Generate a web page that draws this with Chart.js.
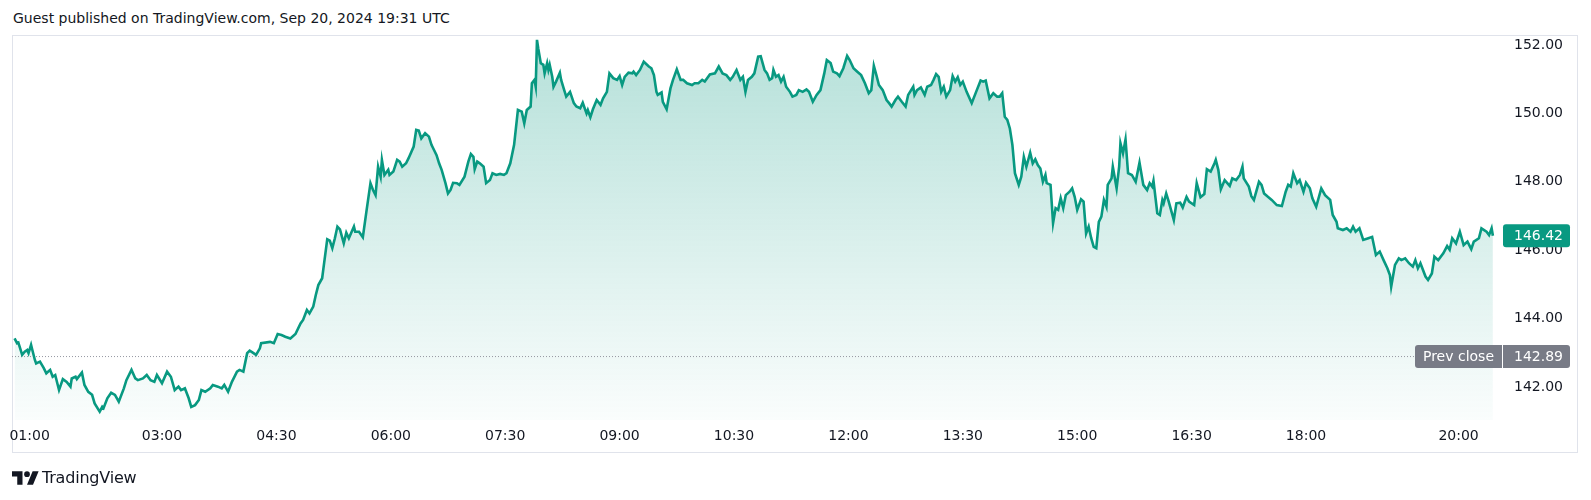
<!DOCTYPE html>
<html>
<head>
<meta charset="utf-8">
<script src="https://cdn.jsdelivr.net/npm/chart.js@4.4.1/dist/chart.umd.min.js"></script>
<style>
  html, body { margin: 0; padding: 0; background: #ffffff; }
  body { width: 1591px; height: 500px; position: relative; overflow: hidden; font-family: "DejaVu Sans", sans-serif; color: #131722; }
  #title { position: absolute; left: 13px; top: 10px; font-size: 14px; line-height: 17px; white-space: nowrap; }
  #panel { position: absolute; left: 12px; top: 35px; width: 1566px; height: 418px; border: 1px solid #e0e3eb; box-sizing: border-box; }
  #chart { position: absolute; left: 0; top: 0; }
  #brand { position: absolute; left: 12px; top: 467px; height: 20px; display: flex; align-items: center; }
  #brand span { font-size: 16px; margin-left: 3px; letter-spacing: -0.2px; }
</style>
</head>
<body>
<div id="title">Guest published on TradingView.com, Sep 20, 2024 19:31 UTC</div>
<div id="panel"></div>
<canvas id="chart" width="1591" height="500"></canvas>
<div id="brand">
  <svg width="27" height="15" viewBox="0 0 36 19"><path d="M14 19H7V8H0V1h14v18z M28 19h-8l7.5-18h8L28 19z" fill="#131722"/><circle cx="20" cy="5" r="3.8" fill="#131722"/></svg>
  <span>TradingView</span>
</div>
<script>
// time of each point (HH:MM) and the traded price
const times = [
  '01:04','01:06','01:07','01:10','01:12','01:14','01:15','01:17','01:18','01:20','01:21','01:24','01:27','01:29','01:32','01:34','01:36','01:39','01:42','01:45',
  '01:48','01:49','01:52','01:53','01:57','01:59','02:02','02:05','02:07','02:11','02:13','02:14','02:17','02:20','02:23','02:26','02:30','02:32','02:36','02:39',
  '02:41','02:45','02:48','02:51','02:54','02:56','03:00','03:04','03:07','03:10','03:13','03:15','03:18','03:21','03:23','03:26','03:29','03:31','03:34','03:38',
  '03:40','03:44','03:47','03:49','03:52','03:55','03:59','04:01','04:04','04:07','04:09','04:12','04:14','04:17','04:18','04:25','04:28','04:31','04:34','04:37',
  '04:41','04:45','04:49','04:51','04:54','04:56','04:59','05:01','05:03','05:06','05:07','05:10','05:12','05:14','05:16','05:18','05:20','05:23','05:25','05:27',
  '05:31','05:32','05:35','05:38','05:41','05:44','05:46','05:48','05:50','05:52','05:53','05:55','05:58','05:59','06:02','06:05','06:07','06:09','06:12','06:14',
  '06:18','06:20','06:22','06:24','06:27','06:30','06:32','06:34','06:36','06:38','06:40','06:43','06:45','06:47','06:49','06:52','06:54','06:58','07:01','07:03',
  '07:05','07:06','07:08','07:10','07:13','07:15','07:18','07:20','07:23','07:26','07:29','07:31','07:34','07:37','07:40','07:43','07:45','07:47','07:50','07:51',
  '07:53','07:54','07:55','07:56','07:58','08:00','08:01','08:03','08:04','08:05','08:07','08:08','08:10','08:13','08:14','08:16','08:18','08:21','08:24','08:26',
  '08:29','08:31','08:34','08:35','08:37','08:39','08:42','08:45','08:47','08:50','08:52','08:55','08:58','09:00','09:02','09:04','09:07','09:10','09:11','09:13',
  '09:16','09:19','09:23','09:25','09:27','09:29','09:30','09:33','09:34','09:37','09:40','09:42','09:45','09:48','09:50','09:53','09:57','09:59','10:02','10:05',
  '10:07','10:11','10:15','10:18','10:21','10:24','10:27','10:29','10:32','10:35','10:37','10:39','10:41','10:44','10:46','10:49','10:51','10:54','10:56','10:58',
  '11:00','11:01','11:03','11:05','11:07','11:09','11:11','11:14','11:16','11:19','11:21','11:24','11:27','11:29','11:32','11:35','11:38','11:41','11:43','11:46',
  '11:48','11:51','11:53','11:56','11:59','12:01','12:04','12:07','12:10','12:13','12:16','12:18','12:20','12:22','12:24','12:27','12:30','12:32','12:34','12:37',
  '12:39','12:42','12:45','12:47','12:51','12:52','12:54','12:57','13:00','13:02','13:05','13:07','13:09','13:11','13:13','13:15','13:17','13:20','13:22','13:24',
  '13:26','13:28','13:30','13:33','13:37','13:41','13:44','13:46','13:48','13:51','13:54','13:57','13:59','14:01','14:03','14:05','14:07','14:09','14:11','14:14',
  '14:16','14:18','14:20','14:23','14:25','14:27','14:29','14:31','14:33','14:35','14:36','14:39','14:41','14:43','14:45','14:47','14:49','14:51','14:54','14:56',
  '14:58','15:00','15:03','15:05','15:07','15:09','15:11','15:13','15:15','15:17','15:19','15:21','15:23','15:24','15:27','15:28','15:31','15:33','15:34','15:36',
  '15:38','15:40','15:43','15:46','15:49','15:52','15:55','15:57','15:59','16:00','16:03','16:05','16:07','16:08','16:10','16:12','16:16','16:18','16:21','16:23',
  '16:26','16:28','16:32','16:34','16:37','16:40','16:42','16:45','16:48','16:49','16:51','16:53','16:56','17:00','17:02','17:05','17:08','17:10','17:11','17:15',
  '17:17','17:19','17:23','17:25','17:27','17:30','17:33','17:37','17:41','17:44','17:46','17:48','17:50','17:53','17:55','17:58','18:00','18:03','18:05','18:08',
  '18:12','18:15','18:19','18:21','18:24','18:25','18:29','18:32','18:35','18:37','18:39','18:42','18:45','18:49','18:52','18:55','18:58','19:01','19:04','19:06',
  '19:07','19:10','19:13','19:15','19:18','19:21','19:24','19:26','19:28','19:30','19:34','19:36','19:39','19:41','19:44','19:48','19:51','19:53','19:55','19:58',
  '20:01','20:04','20:07','20:10','20:12','20:16','20:18','20:22','20:24','20:26','20:27'
];
const prices = [
  143.42,143.28,143.30,142.94,143.03,143.08,142.99,143.23,143.08,142.79,142.69,142.74,142.55,142.40,142.50,142.30,142.35,141.91,142.23,142.15,
  142.01,142.25,142.30,142.23,142.42,142.06,141.86,141.77,141.52,141.28,141.42,141.38,141.67,141.83,141.77,141.57,141.96,142.20,142.50,142.25,
  142.20,142.25,142.35,142.20,142.15,142.35,142.11,142.45,142.30,141.91,142.01,141.91,141.96,141.67,141.42,141.47,141.62,141.91,141.86,141.96,
  142.06,142.01,141.96,142.06,141.86,142.15,142.45,142.50,142.45,142.99,143.06,142.99,142.94,143.13,143.28,143.32,143.28,143.55,143.52,143.47,
  143.42,143.55,143.86,143.96,144.25,144.15,144.35,144.69,144.98,145.18,145.47,146.32,146.28,146.06,146.35,146.69,146.61,146.20,146.51,146.35,
  146.69,146.54,146.54,146.38,147.18,147.96,147.76,147.61,148.44,148.15,148.64,148.20,148.35,148.20,148.30,148.64,148.59,148.44,148.54,148.69,
  149.03,149.52,149.50,149.27,149.42,149.32,149.08,148.93,148.78,148.54,148.35,147.96,147.66,147.76,147.97,147.96,147.91,148.15,148.59,148.81,
  148.73,148.37,148.59,148.54,148.44,147.96,148.05,148.25,148.20,148.23,148.20,148.25,148.54,149.08,150.10,150.05,149.71,150.10,150.20,150.88,
  150.98,150.78,152.15,151.90,151.47,151.42,151.17,151.47,151.27,151.42,151.07,150.78,150.93,151.19,150.98,150.73,150.49,150.63,150.30,150.20,
  150.15,150.31,150.00,150.10,149.89,150.12,150.39,150.25,150.44,150.63,151.17,151.03,150.98,151.09,150.83,151.07,151.19,151.17,151.22,151.12,
  151.27,151.51,151.37,151.32,151.12,150.63,150.54,150.61,150.34,150.12,150.73,150.98,151.29,150.98,150.98,150.88,150.83,150.88,150.88,150.98,
  150.93,151.14,151.17,151.37,151.17,151.12,150.98,151.07,151.27,150.98,151.07,150.63,150.98,151.07,151.17,151.66,151.67,151.27,151.17,150.98,
  151.03,151.27,151.07,151.12,150.93,151.07,150.78,150.63,150.49,150.54,150.68,150.63,150.70,150.63,150.34,150.54,150.68,151.17,151.56,151.47,
  151.22,151.17,151.09,151.32,151.68,151.56,151.32,151.22,151.12,150.88,150.59,150.68,151.39,151.12,150.83,150.68,150.39,150.30,150.20,150.39,
  150.49,150.34,150.20,150.54,150.78,150.54,150.68,150.76,150.54,150.78,150.83,150.98,151.15,151.07,150.63,150.78,150.49,150.68,151.09,150.93,
  151.06,150.83,150.93,150.63,150.30,150.68,150.96,150.93,150.96,150.44,150.59,150.49,150.49,150.59,149.90,149.81,149.56,149.08,148.25,147.91,
  148.15,148.73,148.44,148.85,148.54,148.66,148.49,148.39,148.00,148.20,147.96,147.91,146.79,147.23,147.18,147.52,147.23,147.61,147.71,147.81,
  147.56,147.18,147.49,147.42,146.49,146.69,146.35,146.10,146.06,146.83,146.98,147.47,147.27,147.91,148.10,148.44,147.81,148.44,149.13,148.83,
  149.24,148.25,148.20,148.00,148.56,147.91,147.76,147.96,147.86,148.03,147.08,147.03,147.47,147.37,147.66,147.42,146.88,147.37,147.39,147.25,
  147.56,147.42,147.32,147.96,147.55,147.64,148.37,148.30,148.54,148.64,148.35,147.78,148.05,147.88,148.10,148.05,148.20,148.44,148.10,147.86,
  147.58,147.47,148.00,147.91,147.66,147.56,147.47,147.32,147.29,147.71,147.91,147.86,148.25,147.96,148.05,147.71,147.97,147.81,147.52,147.27,
  147.81,147.61,147.47,147.03,146.83,146.64,146.59,146.64,146.54,146.69,146.54,146.64,146.30,146.35,146.39,145.86,145.96,145.71,145.47,145.27,
  144.93,145.57,145.76,145.71,145.76,145.62,145.52,145.71,145.47,145.62,145.23,145.13,145.32,145.81,145.71,145.91,146.12,146.01,146.35,146.20,
  146.54,146.15,146.25,146.03,146.25,146.35,146.64,146.54,146.44,146.64,146.42
];
const prevClose = 142.89;

const timeTicks = ['01:00','03:00','04:30','06:00','07:30','09:00','10:30','12:00','13:30','15:00','16:30','18:00','20:00'];
const priceTicks = [142, 144, 146, 148, 150, 152];

const FONT = '"DejaVu Sans", sans-serif';
const GREEN = '#089981';
const X_MIN = 62, X_MAX = 1232.6;        // minutes after midnight
const Y_MIN = 141.035, Y_MAX = 152.292;

function toMin(s) {
  const p = s.split(':');
  return +p[0] * 60 + +p[1];
}

const series = times.map((t, i) => ({ x: toMin(t), y: prices[i] }));
const lastPrice = prices[prices.length - 1];

function areaFill(context) {
  const area = context.chart.chartArea;
  if (!area) return 'rgba(8,153,129,0.15)';
  const g = context.chart.ctx.createLinearGradient(0, area.top, 0, area.bottom);
  g.addColorStop(0, 'rgba(8,153,129,0.30)');
  g.addColorStop(1, 'rgba(8,153,129,0.02)');
  return g;
}

// price labels drawn over the right axis
const badges = {
  id: 'badges',
  afterDraw(chart) {
    const ctx = chart.ctx;
    const y = chart.scales.y;
    const x0 = y.left + 3, x1 = y.right - 8;
    ctx.save();
    ctx.font = '14px ' + FONT;
    ctx.textBaseline = 'middle';

    let py = y.getPixelForValue(prevClose);
    ctx.fillStyle = '#787b86';
    ctx.beginPath();
    ctx.roundRect(x0 - 88, py - 11.5, 87, 23, [3, 0, 0, 3]);
    ctx.fill();
    ctx.beginPath();
    ctx.roundRect(x0, py - 11.5, x1 - x0, 23, [0, 3, 3, 0]);
    ctx.fill();
    ctx.fillStyle = '#ffffff';
    ctx.textAlign = 'center';
    ctx.fillText('Prev close', x0 - 44.5, py + 0.5);
    ctx.textAlign = 'left';
    ctx.fillText(prevClose.toFixed(2), y.left + 14, py + 0.5);

    py = y.getPixelForValue(lastPrice);
    ctx.fillStyle = GREEN;
    ctx.beginPath();
    ctx.roundRect(x0, py - 11.5, x1 - x0, 23, 3);
    ctx.fill();
    ctx.fillStyle = '#ffffff';
    ctx.fillText(lastPrice.toFixed(2), y.left + 14, py + 0.5);
    ctx.restore();
  }
};

new Chart(document.getElementById('chart'), {
  type: 'line',
  data: {
    datasets: [
      {
        data: series,
        borderColor: GREEN,
        borderWidth: 2.6,
        backgroundColor: areaFill,
        fill: 'start',
        pointRadius: 0,
        tension: 0,
        order: 0
      },
      {
        data: [{ x: X_MIN, y: prevClose }, { x: X_MAX, y: prevClose }],
        borderColor: '#9598a1',
        borderWidth: 1,
        borderDash: [1, 2],
        pointRadius: 0,
        fill: false,
        order: 1
      }
    ]
  },
  options: {
    responsive: false,
    animation: false,
    layout: { padding: { left: 12, top: 35, right: 13, bottom: 47 } },
    plugins: {
      legend: { display: false },
      tooltip: { enabled: false },
      filler: { drawTime: 'beforeDatasetsDraw' }
    },
    scales: {
      x: {
        type: 'linear',
        min: X_MIN,
        max: X_MAX,
        grid: { display: false, drawTicks: false },
        border: { display: false },
        afterBuildTicks: (axis) => {
          axis.ticks = timeTicks.map(t => ({ value: toMin(t) })).concat([{ value: X_MAX }]);
        },
        afterFit: (axis) => { axis.height = 33; },
        ticks: {
          autoSkip: false,
          maxRotation: 0,
          align: 'inner',
          padding: 8,
          color: '#131722',
          font: { family: FONT, size: 14 },
          callback: (v, i) => timeTicks[i] || ''
        }
      },
      y: {
        position: 'right',
        min: Y_MIN,
        max: Y_MAX,
        grid: { display: false, drawTicks: false },
        border: { display: false },
        afterBuildTicks: (axis) => {
          axis.ticks = priceTicks.map(v => ({ value: v }));
        },
        afterFit: (axis) => { axis.width = 78; },
        ticks: {
          padding: 14,
          crossAlign: 'near',
          color: '#131722',
          font: { family: FONT, size: 14 },
          callback: (v) => Number(v).toFixed(2)
        }
      }
    }
  },
  plugins: [badges]
});
</script>
</body>
</html>
